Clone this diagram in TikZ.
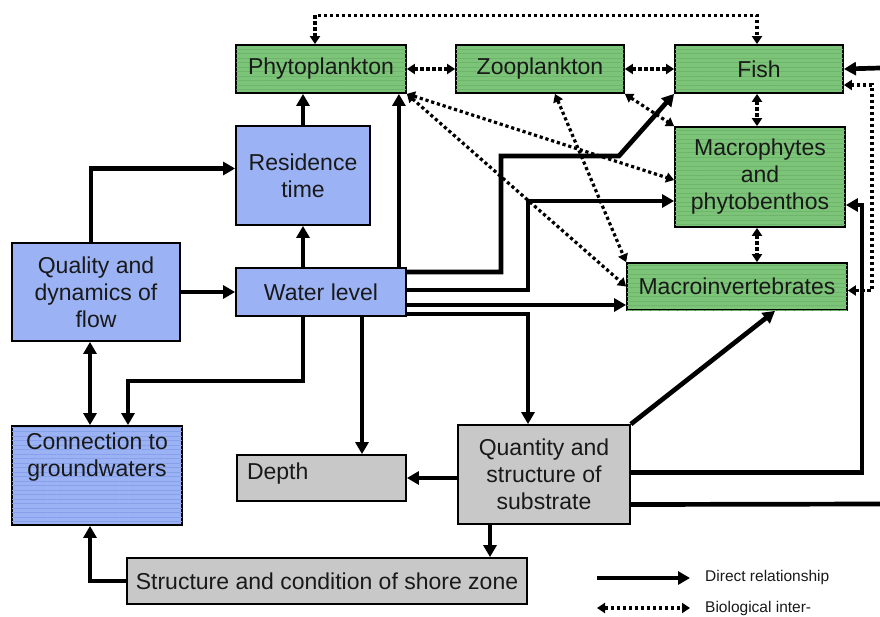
\documentclass[tikz,border=0pt]{standalone}
\usepackage{fontspec}
\setmainfont{Liberation Sans}
\usetikzlibrary{arrows.meta,patterns.meta,calc}
\definecolor{gfill}{RGB}{124,196,120}
\definecolor{bfill}{RGB}{155,178,245}
\definecolor{gyfill}{RGB}{200,200,200}
\definecolor{ghatch}{RGB}{110,180,108}
\definecolor{bhatch}{RGB}{136,160,234}
\tikzset{
  box/.style={draw=black, line width=1.8pt, rectangle, inner sep=2pt, align=center,
    font=\fontsize{23}{27}\selectfont, text=black!90},
  gbox/.style={box, fill=gfill, postaction={pattern color=ghatch, pattern={Lines[angle=0,distance=4.5pt,line width=0.5pt]}}},
  bbox/.style={box, fill=bfill},
  hbbox/.style={bbox, postaction={pattern color=bhatch, pattern={Lines[angle=0,distance=4.5pt,line width=0.5pt]}}},
  gybox/.style={box, fill=gyfill},
  arr/.style={line width=4.7pt, -{Triangle[length=12pt,width=13pt]}},
  dotarr/.style={line width=3.2pt, dash pattern=on 3.2pt off 2.8pt,
    {Triangle[length=8pt,width=10pt]}-{Triangle[length=8pt,width=10pt]}},
  legtext/.style={font=\fontsize{15.5}{18}\selectfont, anchor=west, inner sep=0pt, text=black!90}
}
\begin{document}
\begin{tikzpicture}[x=1pt,y=-1pt]
\useasboundingbox (0,0) rectangle (880,616);
% boxes
\node[gbox, minimum width=170pt, minimum height=48pt] (phyto) at (321,69) {Phytoplankton};
\node[gbox, minimum width=168pt, minimum height=48pt] (zoo) at (540,69) {Zooplankton};
\node[gbox, minimum width=168pt, minimum height=48pt] (fish) at (759,69) {Fish};
\node[gbox, minimum width=170pt, minimum height=100pt] (macro) at (760,177) {Macrophytes\\and\\phytobenthos};
\node[gbox, minimum width=220pt, minimum height=47pt] (inv) at (737,286.5) {Macroinvertebrates};
\node[bbox, minimum width=134pt, minimum height=99pt] (res) at (303,175.5) {Residence\\time};
\node[bbox, minimum width=168pt, minimum height=98pt] (qual) at (96,292) {Quality and\\dynamics of\\flow};
\node[bbox, minimum width=170pt, minimum height=48pt] (wl) at (321,292) {Water level};
\node[hbbox, minimum width=170pt, minimum height=99pt, inner ysep=7pt, inner xsep=3pt] (conn) at (97,475.5)
  {\parbox[c][85pt][t]{164pt}{\centering Connection to\\groundwaters}};
\node[gybox, minimum width=169pt, minimum height=46pt, inner ysep=8pt, inner xsep=10pt] (depth) at (321.5,478)
  {\parbox[c][30pt][t]{149pt}{Depth}};
\node[gybox, minimum width=172pt, minimum height=99pt] (subst) at (544,474.5) {Quantity and\\structure of\\substrate};
\node[gybox, minimum width=400pt, minimum height=46pt, inner xsep=2pt] (shore) at (327,581) {Structure and condition of shore zone};
% free ends at the right edge
\coordinate (edgeA) at (880,68);
\coordinate (edgeB) at (880,504);
% direct relationships
\draw[arr] ([xshift=-8pt]wl.north east) -- ([xshift=-8pt]phyto.south east);
\draw[arr] (res.north) -- (res.north |- phyto.south);
\draw[arr] (res.south |- wl.north) -- (res.south);
\draw[arr] ([xshift=-5pt]qual.north) |- ([yshift=7pt]res.west);
\draw[arr] (qual.east) -- (wl.west);
\draw[line width=4.7pt, {Triangle[length=12pt,width=13pt]}-{Triangle[length=12pt,width=13pt]}]
  ([xshift=-6pt]qual.south) -- ([xshift=-6pt]qual.south |- conn.north);
\draw[arr] (wl.south -| res.south) |- ([xshift=31pt,yshift=44pt]conn.north) -- ([xshift=31pt]conn.north);
\draw[arr] ([xshift=41pt]wl.south) -- ([xshift=41pt]wl.south |- depth.north);
\draw[arr] ([yshift=-22pt]wl.east) -| ([xshift=-16pt]subst.north);
\draw[arr] ([yshift=20pt]wl.east) -- ++(94,0) -- ++(0,-116) -- ++(118,0) -- (fish.south west);
\draw[arr] ([yshift=2pt]wl.east) -- ++(121,0) |- ([yshift=-24pt]macro.west);
\draw[arr] ([yshift=-13pt]wl.east) -- ([yshift=-13pt]wl.east -| inv.west);
\draw[arr] (subst.north east) -- ([xshift=38pt]inv.south);
\draw[arr] (depth.east -| subst.west) -- (depth.east);
\draw[arr] ([xshift=-54pt]subst.south) -- ([xshift=-54pt]subst.south |- shore.north);
\draw[arr] ([yshift=2pt]subst.east) -| ([xshift=16pt,yshift=-28pt]macro.east) -- ([yshift=-28pt]macro.east);
\draw[line width=4.7pt] ([yshift=-30pt]subst.east) -- (edgeB);
\draw[arr] (edgeA) -- (fish.east);
\draw[arr] (shore.west) -| ([xshift=-7pt]conn.south);
% biological interactions
\draw[dotarr] (phyto.east) -- (zoo.west);
\draw[dotarr] (zoo.east) -- (fish.west);
\draw[dotarr] ([xshift=-6pt]phyto.north) -- ++(0,-29) -| ([xshift=-2pt]fish.north);
\draw[dotarr] ([xshift=-2pt]fish.south) -- ([xshift=-2pt]fish.south |- macro.north);
\draw[dotarr] ([xshift=-3pt]macro.south) -- ([xshift=-3pt]macro.south |- inv.north);
\draw[dotarr] ([yshift=-4pt]inv.east) -| ([xshift=28pt,yshift=-16pt]fish.east) -- ([yshift=-16pt]fish.east);
\draw[dotarr] (phyto.south east) -- ([yshift=-3pt]macro.west);
\draw[dotarr] (phyto.south east) -- (inv.west);
\draw[dotarr] ([xshift=15pt]zoo.south) -- (inv.north west);
\draw[dotarr] (zoo.south east) -- (macro.north west);
% legend
\coordinate (lgA1) at (597,578);
\coordinate (lgA2) at (690,578);
\coordinate (lgB1) at (597,608);
\coordinate (lgB2) at (690,608);
\draw[arr] (lgA1) -- (lgA2);
\draw[dotarr] (lgB1) -- (lgB2);
\node[legtext] (lg1) at (705,577) {Direct relationship};
\node[legtext] (lg2) at (705,608) {Biological inter-};
\end{tikzpicture}
\end{document}
